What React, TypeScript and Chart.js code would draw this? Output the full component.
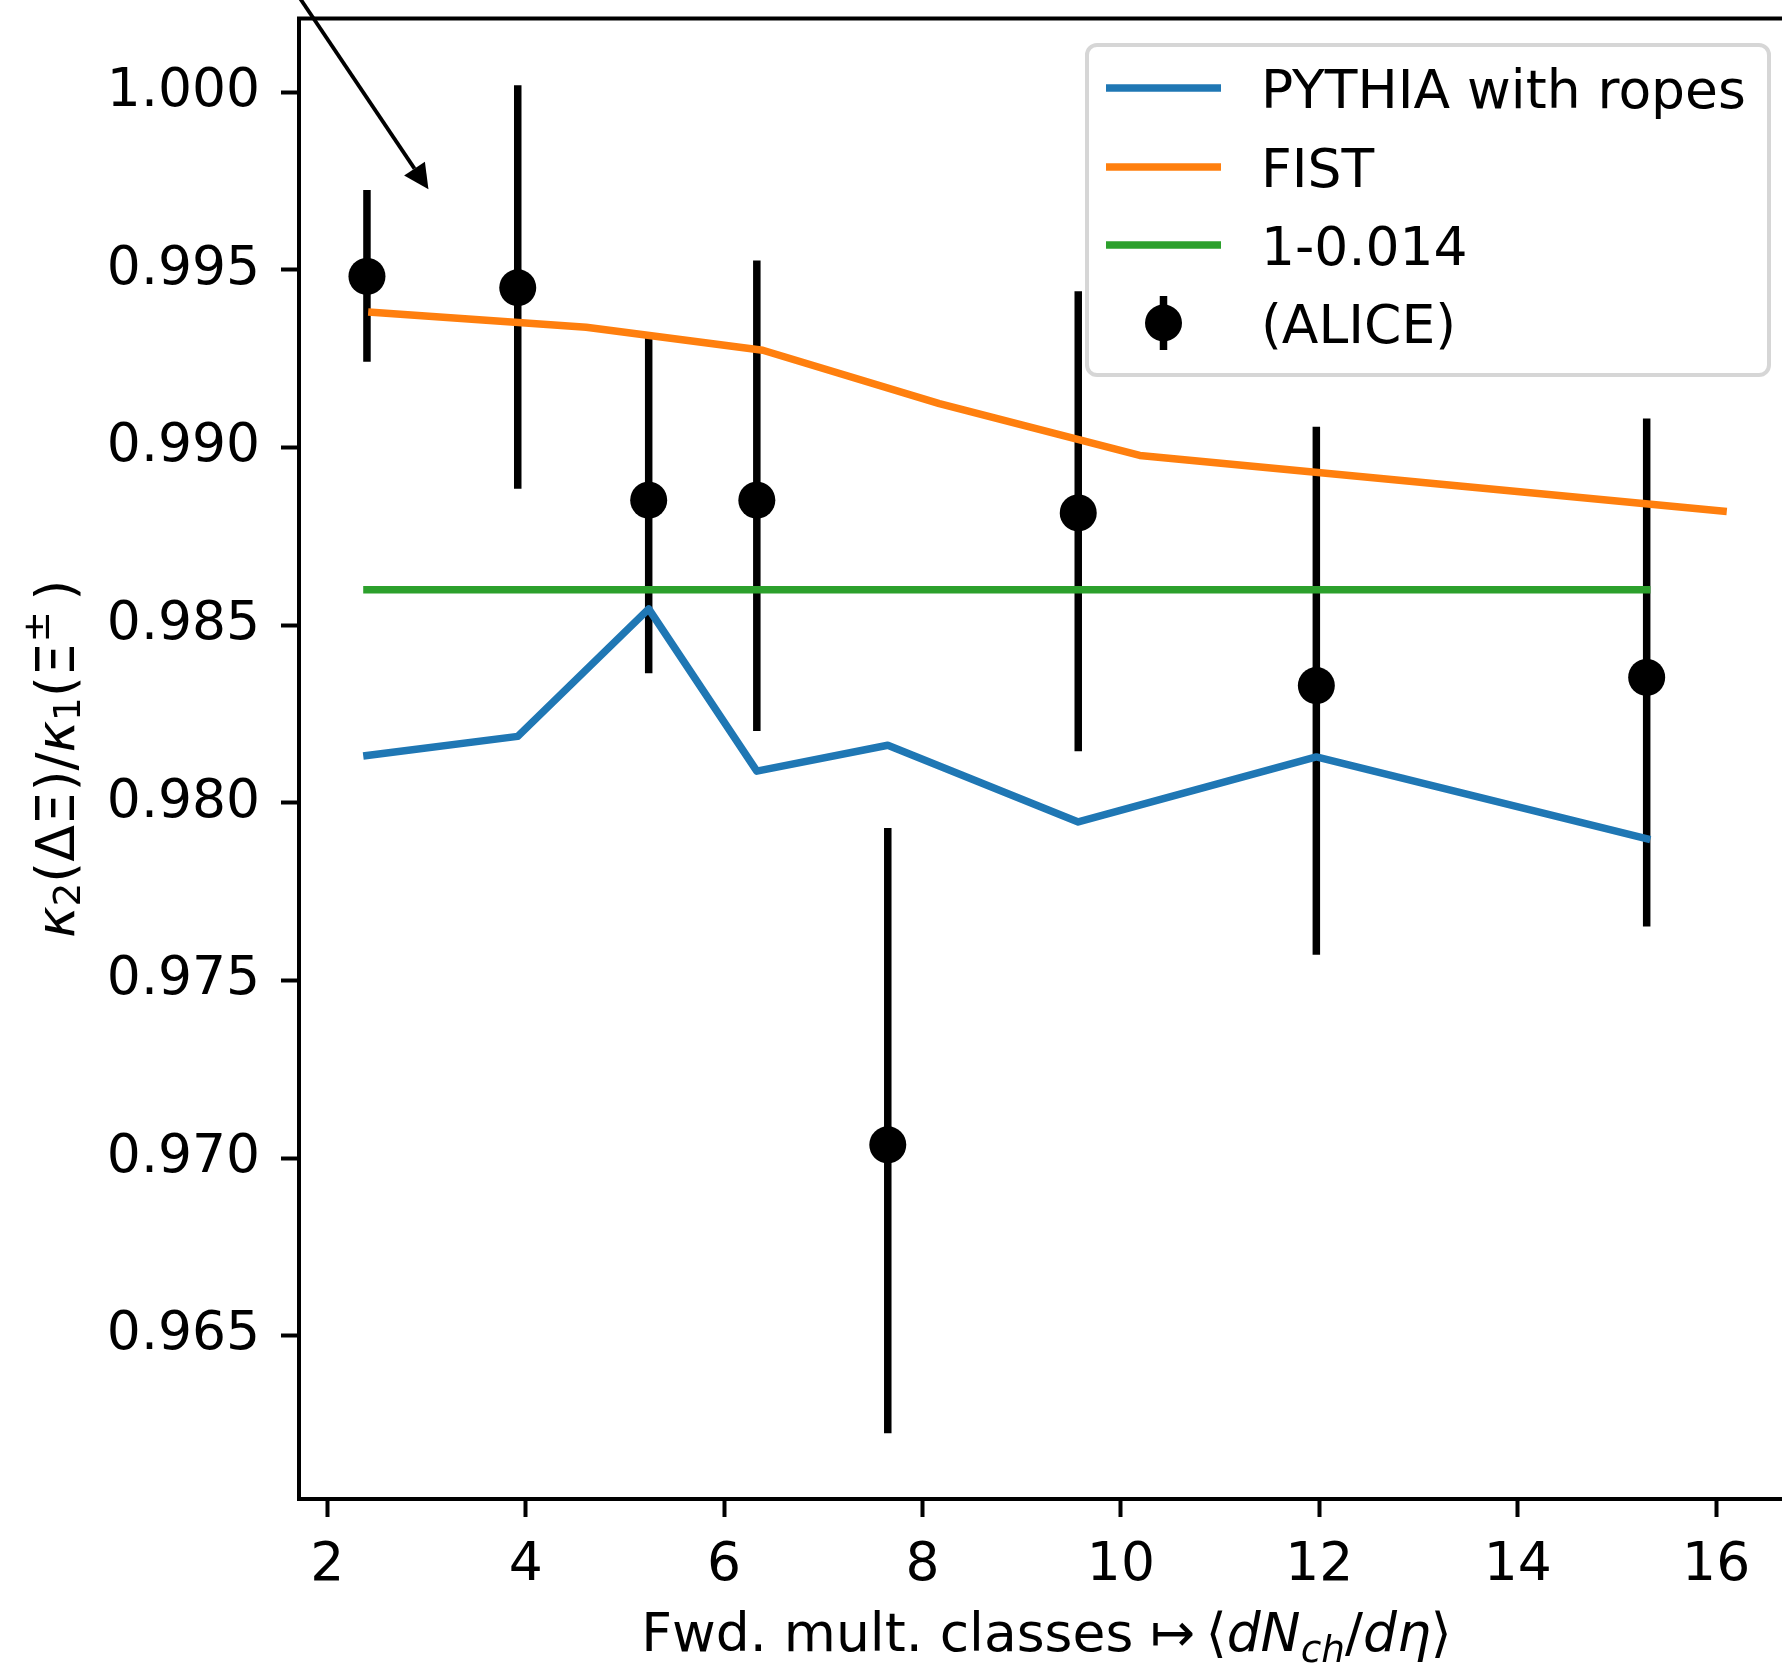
import React, { useEffect, useRef } from "react";
import { Chart, registerables } from "chart.js";

Chart.register(...registerables);

// ALICE data points: multiplicity class <dN/deta>, central value, error-bar ends
const ALICE_X = [2.4, 3.92, 5.24, 6.33, 7.65, 9.57, 11.97, 15.3];
const ALICE_Y = [0.99482, 0.9945, 0.98852, 0.98852, 0.97037, 0.98816, 0.9833, 0.98353];
const ALICE_LOW = [0.99242, 0.98884, 0.98365, 0.98202, 0.96225, 0.98145, 0.97572, 0.97652];
const ALICE_HIGH = [0.99725, 1.0002, 0.99309, 0.99527, 0.97929, 0.9944, 0.99059, 0.99082];

// PYTHIA with ropes, evaluated at the same classes
const PYTHIA_X = [2.4, 3.92, 5.24, 6.33, 7.65, 9.57, 11.97, 15.3];
const PYTHIA_Y = [0.98133, 0.98187, 0.98546, 0.98089, 0.98162, 0.97946, 0.98129, 0.97899];

// FIST model curve
const FIST_X = [2.45, 4.61, 6.39, 8.17, 10.19, 16.07];
const FIST_Y = [0.99381, 0.99339, 0.99274, 0.99124, 0.98978, 0.98821];

// Reference level 1 - 0.014
const REF_LEVEL = 1 - 0.014;
const REF_X = [2.4, 15.3];

const SERIES_LABELS = ["PYTHIA with ropes", "FIST", "1-0.014", "(ALICE)"];
const SERIES_COLORS = ["#1f77b4", "#ff7f0e", "#2ca02c", "#000000"];

const X_TICKS = [2, 4, 6, 8, 10, 12, 14, 16];
const Y_TICKS = [0.965, 0.97, 0.975, 0.98, 0.985, 0.99, 0.995, 1.0];
const X_RANGE = [1.715, 16.785];
const Y_RANGE = [0.9604, 1.00208];

// annotation arrow (tail lies outside the figure)
const ARROW_FROM = { x: 1.52, y: 1.0035 };
const ARROW_TO = { x: 3.02, y: 0.99727 };

const FONT = '"DejaVu Sans", "Noto Sans", sans-serif';
const FS = 53.5;
const CANVAS_W = 1840;
const CANVAS_H = 1664;
const AREA = { left: 299, top: 18, right: 1794, bottom: 1499 };
const LINE_W = 7.5;
const MARKER_R = 18.5;

type Run = { t: string; it?: boolean; s?: number; dy?: number };

const X_LABEL: Run[] = [
  { t: "Fwd. mult. classes " },
  { t: "\u21A6" },
  { t: "\u2009\u27E8" },
  { t: "dN", it: true },
  { t: "ch", it: true, s: 0.7, dy: 0.2 },
  { t: "/" },
  { t: "d\u03B7", it: true },
  { t: "\u27E9" },
];

const Y_LABEL: Run[] = [
  { t: "\u03BA", it: true },
  { t: "2", s: 0.7, dy: 0.12 },
  { t: "(\u0394\u039E)/" },
  { t: "\u03BA", it: true },
  { t: "1", s: 0.7, dy: 0.12 },
  { t: "(\u039E" },
  { t: "\u00B1", s: 0.7, dy: -0.46 },
  { t: "\u2009)" },
];

function runFont(r: Run) {
  return `${r.it ? "italic " : ""}${FS * (r.s ?? 1)}px ${FONT}`;
}

function runsWidth(ctx: CanvasRenderingContext2D, runs: Run[]) {
  let w = 0;
  for (const r of runs) {
    ctx.font = runFont(r);
    w += ctx.measureText(r.t).width;
  }
  return w;
}

function drawRuns(ctx: CanvasRenderingContext2D, runs: Run[], x: number, y: number) {
  let cx = x;
  ctx.textAlign = "left";
  ctx.textBaseline = "alphabetic";
  for (const r of runs) {
    ctx.font = runFont(r);
    ctx.fillText(r.t, cx, y + (r.dy ?? 0) * FS);
    cx += ctx.measureText(r.t).width;
  }
}

const errorBarPlugin = {
  id: "errorBars",
  beforeDatasetsDraw(chart: any) {
    const { ctx, chartArea, scales } = chart;
    const xs = scales.x;
    const ys = scales.y;
    ctx.save();
    ctx.beginPath();
    ctx.rect(chartArea.left, chartArea.top, chartArea.right - chartArea.left, chartArea.bottom - chartArea.top);
    ctx.clip();
    ctx.strokeStyle = "#000";
    ctx.lineWidth = LINE_W;
    ctx.lineCap = "butt";
    ALICE_X.forEach((xv, i) => {
      const px = xs.getPixelForValue(xv);
      ctx.beginPath();
      ctx.moveTo(px, ys.getPixelForValue(ALICE_LOW[i]));
      ctx.lineTo(px, ys.getPixelForValue(ALICE_HIGH[i]));
      ctx.stroke();
    });
    ctx.restore();
  },
};

const decorPlugin = {
  id: "decor",
  afterDatasetsDraw(chart: any) {
    const { ctx, chartArea, scales } = chart;
    const xs = scales.x;
    const ys = scales.y;
    ctx.save();
    // axes frame
    ctx.strokeStyle = "#000";
    ctx.lineWidth = 4;
    ctx.lineJoin = "miter";
    ctx.strokeRect(chartArea.left, chartArea.top, chartArea.right - chartArea.left, chartArea.bottom - chartArea.top);

    // annotation arrow
    const tx = xs.getPixelForValue(ARROW_TO.x);
    const ty = ys.getPixelForValue(ARROW_TO.y);
    const fx = xs.getPixelForValue(ARROW_FROM.x);
    const fy = ys.getPixelForValue(ARROW_FROM.y);
    const len = Math.hypot(tx - fx, ty - fy);
    const ux = (tx - fx) / len;
    const uy = (ty - fy) / len;
    const headL = 25;
    const headW = 12.5;
    const bx = tx - ux * headL;
    const by = ty - uy * headL;
    ctx.lineWidth = 3.8;
    ctx.lineCap = "butt";
    ctx.beginPath();
    ctx.moveTo(fx, fy);
    ctx.lineTo(bx, by);
    ctx.stroke();
    ctx.fillStyle = "#000";
    ctx.beginPath();
    ctx.moveTo(tx, ty);
    ctx.lineTo(bx - uy * headW, by + ux * headW);
    ctx.lineTo(bx + uy * headW, by - ux * headW);
    ctx.closePath();
    ctx.fill();
    ctx.restore();
  },
  afterDraw(chart: any) {
    const { ctx, chartArea } = chart;
    ctx.save();
    ctx.fillStyle = "#000";

    // x-axis title
    const xw = runsWidth(ctx, X_LABEL);
    drawRuns(ctx, X_LABEL, (chartArea.left + chartArea.right) / 2 - xw / 2, 1651);

    // y-axis title (rotated)
    const yw = runsWidth(ctx, Y_LABEL);
    ctx.save();
    ctx.translate(74, (chartArea.top + chartArea.bottom) / 2);
    ctx.rotate(-Math.PI / 2);
    drawRuns(ctx, Y_LABEL, -yw / 2, 0);
    ctx.restore();

    // legend
    const L = { x0: 1087, y0: 45, x1: 1769, y1: 375, r: 10 };
    ctx.beginPath();
    ctx.roundRect(L.x0, L.y0, L.x1 - L.x0, L.y1 - L.y0, L.r);
    ctx.fillStyle = "rgba(255,255,255,0.8)";
    ctx.fill();
    ctx.strokeStyle = "rgba(204,204,204,0.8)";
    ctx.lineWidth = 4;
    ctx.stroke();

    const rows = [88, 167, 245, 323];
    const hx0 = 1106;
    const hx1 = 1221;
    const textX = 1261;
    ctx.font = `${FS}px ${FONT}`;
    ctx.textAlign = "left";
    ctx.textBaseline = "alphabetic";
    SERIES_LABELS.forEach((label, i) => {
      const ry = rows[i];
      if (i < 3) {
        ctx.strokeStyle = SERIES_COLORS[i];
        ctx.lineWidth = LINE_W;
        ctx.lineCap = "butt";
        ctx.beginPath();
        ctx.moveTo(hx0, ry);
        ctx.lineTo(hx1, ry);
        ctx.stroke();
      } else {
        const cx = (hx0 + hx1) / 2;
        ctx.strokeStyle = "#000";
        ctx.lineWidth = LINE_W;
        ctx.beginPath();
        ctx.moveTo(cx, ry - 27);
        ctx.lineTo(cx, ry + 27);
        ctx.stroke();
        ctx.fillStyle = "#000";
        ctx.beginPath();
        ctx.arc(cx, ry, MARKER_R, 0, Math.PI * 2);
        ctx.fill();
      }
      ctx.fillStyle = "#000";
      ctx.fillText(label, textX, ry + 0.365 * FS);
    });
    ctx.restore();
  },
};

function pts(xs: number[], ys: number[]) {
  return xs.map((x, i) => ({ x, y: ys[i] }));
}

export default function App() {
  const ref = useRef<HTMLCanvasElement>(null);

  useEffect(() => {
    const canvas = ref.current;
    if (!canvas) return;
    const lineStyle = {
      showLine: true,
      pointRadius: 0,
      pointHoverRadius: 0,
      borderWidth: LINE_W,
      borderCapStyle: "square",
      borderJoinStyle: "round",
      fill: false,
      tension: 0,
      order: 0,
    };
    const chart = new Chart(canvas, {
      type: "scatter",
      data: {
        datasets: [
          { ...lineStyle, label: SERIES_LABELS[0], data: pts(PYTHIA_X, PYTHIA_Y), borderColor: SERIES_COLORS[0] },
          { ...lineStyle, label: SERIES_LABELS[1], data: pts(FIST_X, FIST_Y), borderColor: SERIES_COLORS[1] },
          {
            ...lineStyle,
            label: SERIES_LABELS[2],
            data: REF_X.map((x) => ({ x, y: REF_LEVEL })),
            borderColor: SERIES_COLORS[2],
          },
          {
            label: SERIES_LABELS[3],
            data: pts(ALICE_X, ALICE_Y),
            showLine: false,
            pointRadius: MARKER_R,
            pointHoverRadius: MARKER_R,
            pointBorderWidth: 0,
            pointBackgroundColor: SERIES_COLORS[3],
            borderColor: SERIES_COLORS[3],
            order: 5,
          },
        ] as any,
      },
      options: {
        responsive: false,
        animation: false,
        devicePixelRatio: 1,
        events: [],
        layout: {
          padding: { top: AREA.top, left: 0, right: CANVAS_W - AREA.right, bottom: 0 },
        },
        plugins: {
          legend: { display: false },
          tooltip: { enabled: false },
          title: { display: false },
        },
        scales: {
          x: {
            type: "linear",
            min: X_RANGE[0],
            max: X_RANGE[1],
            afterBuildTicks: (s: any) => {
              s.ticks = X_TICKS.map((value) => ({ value }));
            },
            afterFit: (s: any) => {
              s.height = CANVAS_H - AREA.bottom;
              s.paddingLeft = 0;
              s.paddingRight = 0;
            },
            grid: {
              display: true,
              drawOnChartArea: false,
              drawTicks: true,
              tickLength: 18,
              tickWidth: 4,
              tickColor: "#000",
            },
            border: { display: false },
            ticks: {
              color: "#000",
              font: { family: FONT, size: FS, lineHeight: 1 },
              padding: 22,
              maxRotation: 0,
              autoSkip: false,
              callback: (v: any) => String(v),
            },
          },
          y: {
            type: "linear",
            min: Y_RANGE[0],
            max: Y_RANGE[1],
            afterBuildTicks: (s: any) => {
              s.ticks = Y_TICKS.map((value) => ({ value }));
            },
            afterFit: (s: any) => {
              s.width = AREA.left;
              s.paddingTop = 0;
              s.paddingBottom = 0;
            },
            grid: {
              display: true,
              drawOnChartArea: false,
              drawTicks: true,
              tickLength: 18,
              tickWidth: 4,
              tickColor: "#000",
            },
            border: { display: false },
            ticks: {
              color: "#000",
              font: { family: FONT, size: FS, lineHeight: 1 },
              padding: 21,
              autoSkip: false,
              callback: (v: any) => Number(v).toFixed(3),
            },
          },
        },
      } as any,
      plugins: [errorBarPlugin, decorPlugin],
    });
    return () => chart.destroy();
  }, []);

  return (
    <div
      style={{
        position: "absolute",
        left: 0,
        top: 0,
        width: 1782,
        height: 1664,
        overflow: "hidden",
        background: "#ffffff",
      }}
    >
      <canvas
        ref={ref}
        width={CANVAS_W}
        height={CANVAS_H}
        style={{ display: "block", width: CANVAS_W, height: CANVAS_H }}
      />
    </div>
  );
}
